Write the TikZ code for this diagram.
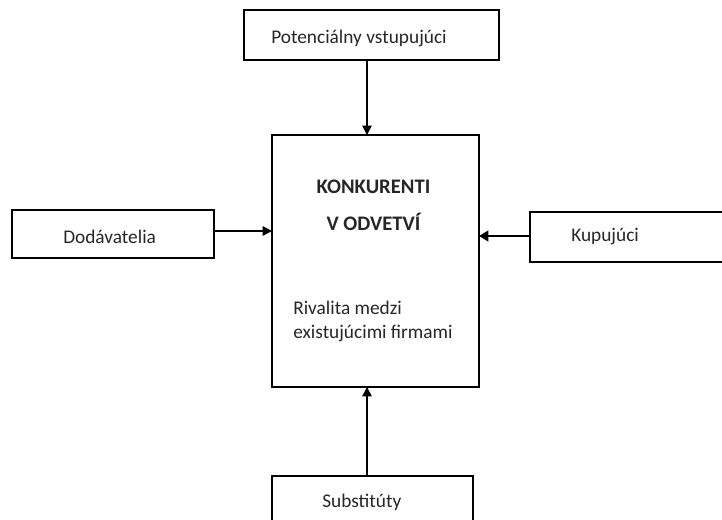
\documentclass[tikz,border=0pt]{standalone}
\usepackage{fontspec}
\setmainfont{Carlito}
\usetikzlibrary{arrows.meta}
\begin{document}
\begin{tikzpicture}[x=0.75pt,y=-0.75pt,
  box/.style={draw=black,line width=1.3pt,fill=white,inner sep=0pt,outer sep=0pt},
  lbl/.style={inner sep=0pt,font=\fontsize{14.5}{17}\selectfont,text=black!85},
  conn/.style={line width=1.1pt,-{Triangle[length=7pt,width=7pt]}},
  thick conn/.style={line width=2pt,-{Triangle[length=7pt,width=8pt]}}]
\useasboundingbox (0,0) rectangle (722,520);
% boxes
\node[box,minimum width=255*0.75pt,minimum height=50*0.75pt] (top) at (371.5,35) {};
\node[box,minimum width=207*0.75pt,minimum height=252*0.75pt] (main) at (375.5,261) {};
\node[box,minimum width=202*0.75pt,minimum height=48*0.75pt] (left) at (113,234) {};
\node[box,minimum width=220*0.75pt,minimum height=50*0.75pt] (right) at (640,237) {};
\node[box,minimum width=201*0.75pt,minimum height=70*0.75pt] (bottom) at (372.5,511) {};
% labels
\node[lbl,anchor=west] (ttop) at (271,38) {Potenciálny vstupujúci};
\node[lbl,anchor=west] (tleft) at (63,237) {Dodávatelia};
\node[lbl,anchor=west] (tright) at (571,237) {Kupujúci};
\node[lbl,anchor=west] (tbottom) at (322,502) {Substitúty};
\node[lbl,font=\fontsize{15.5}{28}\selectfont\bfseries,align=center] (tmain) at (373.5,205) {KONKURENTI\\V ODVETVÍ};
\node[lbl,font=\fontsize{14.5}{18}\selectfont,align=left,anchor=west] (trival) at (293,321) {Rivalita medzi\\existujúcimi firmami};
% connectors
\coordinate (a1) at (367,60);
\coordinate (a2) at (367,135);
\draw[conn] (a1) -- (a2);
\coordinate (b1) at (214,231);
\coordinate (b2) at (272,231);
\draw[conn] (b1) -- (b2);
\coordinate (c1) at (530,236);
\coordinate (c2) at (479,236);
\draw[thick conn] (c1) -- (c2);
\coordinate (d1) at (367,476);
\coordinate (d2) at (367,387);
\draw[conn] (d1) -- (d2);
\end{tikzpicture}
\end{document}
